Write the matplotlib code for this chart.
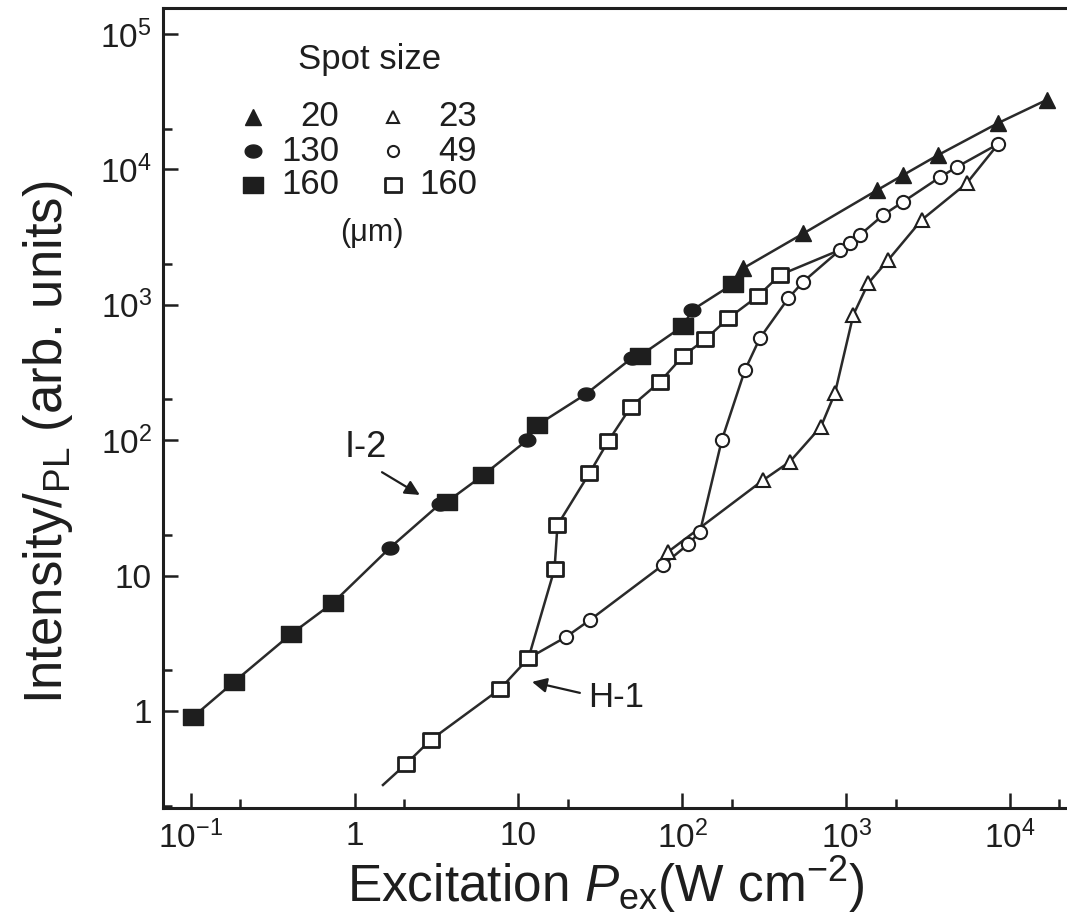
import numpy as np
import matplotlib
matplotlib.use("Agg")
import matplotlib.pyplot as plt
from matplotlib.path import Path
from matplotlib.ticker import FixedLocator, FixedFormatter, LogLocator, NullFormatter

plt.rcParams['font.family'] = ['Liberation Sans', 'DejaVu Sans']
plt.rcParams['mathtext.fontset'] = 'custom'
plt.rcParams['mathtext.rm'] = 'Liberation Sans'
plt.rcParams['mathtext.it'] = 'Liberation Sans:italic'
plt.rcParams['mathtext.bf'] = 'Liberation Sans:bold'

# ---------------- data ----------------
# filled squares, 160 um (I-2)
sq160_x = [0.103, 0.184, 0.41, 0.74, 3.66, 6.07, 13.0, 55.0, 101, 204]
sq160_y = [0.90, 1.64, 3.7, 6.3, 35, 55, 129, 419, 697, 1425]
# filled circles, 130 um
c130_x = [1.64, 3.32, 11.3, 25.8, 49.3, 115]
c130_y = [16.0, 33.8, 100, 219, 405, 915]
# filled triangles, 20 um
t20_x = [235, 547, 1534, 2228, 3640, 8460, 16700]
t20_y = [1860, 3360, 6990, 9090, 12770, 22000, 32570]
# open squares, 160 um (H-1 start point without marker, then markers, end joins circles)
osq_x = [1.49, 2.06, 2.91, 7.71, 11.5, 16.6, 17.3, 27.1, 35.2, 48.6, 73, 101, 138, 191, 290, 394, 916]
osq_y = [0.284, 0.406, 0.61, 1.45, 2.45, 11.2, 23.6, 57, 97.8, 177, 270, 419, 556, 795, 1162, 1660, 2540]
# open circles, 49 um (first point: joins the H-1 line without marker)
oc_x = [11.5, 19.5, 27.3, 76.4, 109, 128, 174, 241, 297, 443, 547, 916, 1054, 1213,
        1682, 2228, 3730, 4730, 8460]
oc_y = [2.45, 3.52, 4.7, 12.0, 17.1, 21, 100, 330, 566, 1117, 1482, 2540, 2845, 3280,
        4605, 5770, 8750, 10420, 15400]
# open triangles, 23 um (last point: joins top circle without marker)
ot_x = [82, 312, 453, 701, 853, 1104, 1362, 1804, 2884, 5430, 8460]
ot_y = [15.0, 50.8, 69.4, 126, 222, 841, 1442, 2143, 4230, 7890, 15400]

xticks = [0.1, 1, 10, 100, 1e3, 1e4]
xticklabels = [r'$10^{-1}$', '1', '10', r'$10^{2}$', r'$10^{3}$', r'$10^{4}$']
yticks = [1, 10, 100, 1e3, 1e4, 1e5]
yticklabels = ['1', '10', r'$10^{2}$', r'$10^{3}$', r'$10^{4}$', r'$10^{5}$']

legend_left = ['20', '130', '160']
legend_right = ['23', '49', '160']

# ---------------- markers ----------------
def rect_marker(h):
    v = [(-0.5, -h / 2), (0.5, -h / 2), (0.5, h / 2), (-0.5, h / 2), (-0.5, -h / 2)]
    return Path(v, [Path.MOVETO, Path.LINETO, Path.LINETO, Path.LINETO, Path.CLOSEPOLY])

def ellipse_marker(h):
    t = np.linspace(0, 2 * np.pi, 40)
    v = np.column_stack([0.5 * np.cos(t), 0.5 * h * np.sin(t)])
    return Path(v, closed=True)

m_fsq = rect_marker(0.8)
m_fc = ellipse_marker(0.78)
m_osq = rect_marker(0.85)

ink = '#1e1e1e'
lc = '#2a2a2a'

fig = plt.figure(figsize=(10.67, 9.16), dpi=100)
ax = fig.add_axes([0.1528, 0.1179, 0.8472, 0.8734])
ax.set_xscale('log')
ax.set_yscale('log')
ax.set_xlim(0.0678, 22230)
ax.set_ylim(0.192, 155600)

# I-2 line through all filled symbols
fx = np.array(sq160_x + c130_x + t20_x)
fy = np.array(sq160_y + c130_y + t20_y)
o = np.argsort(fx)
ax.plot(fx[o], fy[o], '-', color=lc, lw=1.8, zorder=2)

# open-series lines
ax.plot(osq_x, osq_y, '-', color=lc, lw=1.8, zorder=2)
ax.plot(oc_x, oc_y, '-', color=lc, lw=1.8, zorder=2)
ax.plot(ot_x, ot_y, '-', color=lc, lw=1.8, zorder=2)

# markers
ax.plot(sq160_x, sq160_y, ls='none', marker=m_fsq, ms=14, color=ink, mec=ink, zorder=4)
ax.plot(c130_x, c130_y, ls='none', marker=m_fc, ms=12, color=ink, mec=ink, zorder=4)
ax.plot(t20_x, t20_y, ls='none', marker='^', ms=11, color=ink, mec=ink, zorder=4)
ax.plot(osq_x[1:-1], osq_y[1:-1], ls='none', marker=m_osq, ms=12, mfc='white', mec=ink, mew=2.0, zorder=4)
ax.plot(oc_x[1:], oc_y[1:], ls='none', marker='o', ms=9.5, mfc='white', mec=ink, mew=1.5, zorder=3)
ax.plot(ot_x[:-1], ot_y[:-1], ls='none', marker='^', ms=10.5, mfc='white', mec=ink, mew=1.5, zorder=3)

# axes styling
for s in ['left', 'bottom', 'top']:
    ax.spines[s].set_linewidth(2.2)
    ax.spines[s].set_color(ink)
ax.spines['right'].set_visible(False)

ax.xaxis.set_major_locator(FixedLocator(xticks))
ax.xaxis.set_major_formatter(FixedFormatter(xticklabels))
ax.yaxis.set_major_locator(FixedLocator(yticks))
ax.yaxis.set_major_formatter(FixedFormatter(yticklabels))
ax.xaxis.set_minor_locator(LogLocator(base=10, subs=[2.0], numticks=20))
ax.yaxis.set_minor_locator(LogLocator(base=10, subs=[2.0], numticks=20))
ax.xaxis.set_minor_formatter(NullFormatter())
ax.yaxis.set_minor_formatter(NullFormatter())
ax.tick_params(which='major', direction='in', length=10.5, width=1.8, color=ink,
               labelsize=24, labelcolor=ink, top=False, right=False)
ax.tick_params(which='minor', direction='in', length=6.5, width=1.8, color=ink,
               top=False, right=False)
ax.tick_params(axis='x', which='major', pad=9)
ax.tick_params(axis='y', which='major', pad=8)

ax.set_xlabel(r'Excitation $P_{\mathrm{ex}}$(W cm$^{-2}$)', fontsize=37, color=ink)
ax.set_ylabel(r'Intensity/$_{\mathrm{PL}}$ (arb. units)', fontsize=38, color=ink)
ax.xaxis.set_label_coords(0.49, -0.058)
ax.yaxis.set_label_coords(-0.097, 0.4575)

# annotations
ax.annotate('', xy=(2.5, 39.4), xytext=(1.47, 58),
            arrowprops=dict(arrowstyle='-|>', color=ink, lw=1.6, mutation_scale=22, shrinkA=0, shrinkB=0))
ax.text(1.17, 89, 'I-2', fontsize=26, color=ink, ha='center', va='center')
ax.annotate('', xy=(12.1, 1.64), xytext=(23.7, 1.36),
            arrowprops=dict(arrowstyle='-|>', color=ink, lw=1.6, mutation_scale=22, shrinkA=0, shrinkB=0))
ax.text(39.4, 1.25, 'H-1', fontsize=25, color=ink, ha='center', va='center')

# legend (manual)
T = ax.transAxes
ax.text(0.229, 0.935, 'Spot size', transform=T, fontsize=25, color=ink, ha='center', va='center')
rows_y = [0.864, 0.821, 0.779]
left_markers = [dict(marker='^', ms=11, color=ink, mec=ink),
                dict(marker=m_fc, ms=12, color=ink, mec=ink),
                dict(marker=m_fsq, ms=14, color=ink, mec=ink)]
right_markers = [dict(marker='^', ms=9, mfc='white', mec=ink, mew=1.5),
                 dict(marker='o', ms=8, mfc='white', mec=ink, mew=1.5),
                 dict(marker=m_osq, ms=12, mfc='white', mec=ink, mew=2.0)]
for yv, lt, rt, lm, rm in zip(rows_y, legend_left, legend_right, left_markers, right_markers):
    ax.plot([0.0996], [yv], transform=T, ls='none', clip_on=False, **lm)
    ax.plot([0.2544], [yv], transform=T, ls='none', clip_on=False, **rm)
    ax.text(0.1947, yv, lt, transform=T, fontsize=25, color=ink, ha='right', va='center')
    ax.text(0.3473, yv, rt, transform=T, fontsize=25, color=ink, ha='right', va='center')
ax.text(0.231, 0.719, '(μm)', transform=T, fontsize=22, color=ink, ha='center', va='center')

fig.savefig('out.png', dpi=100)
